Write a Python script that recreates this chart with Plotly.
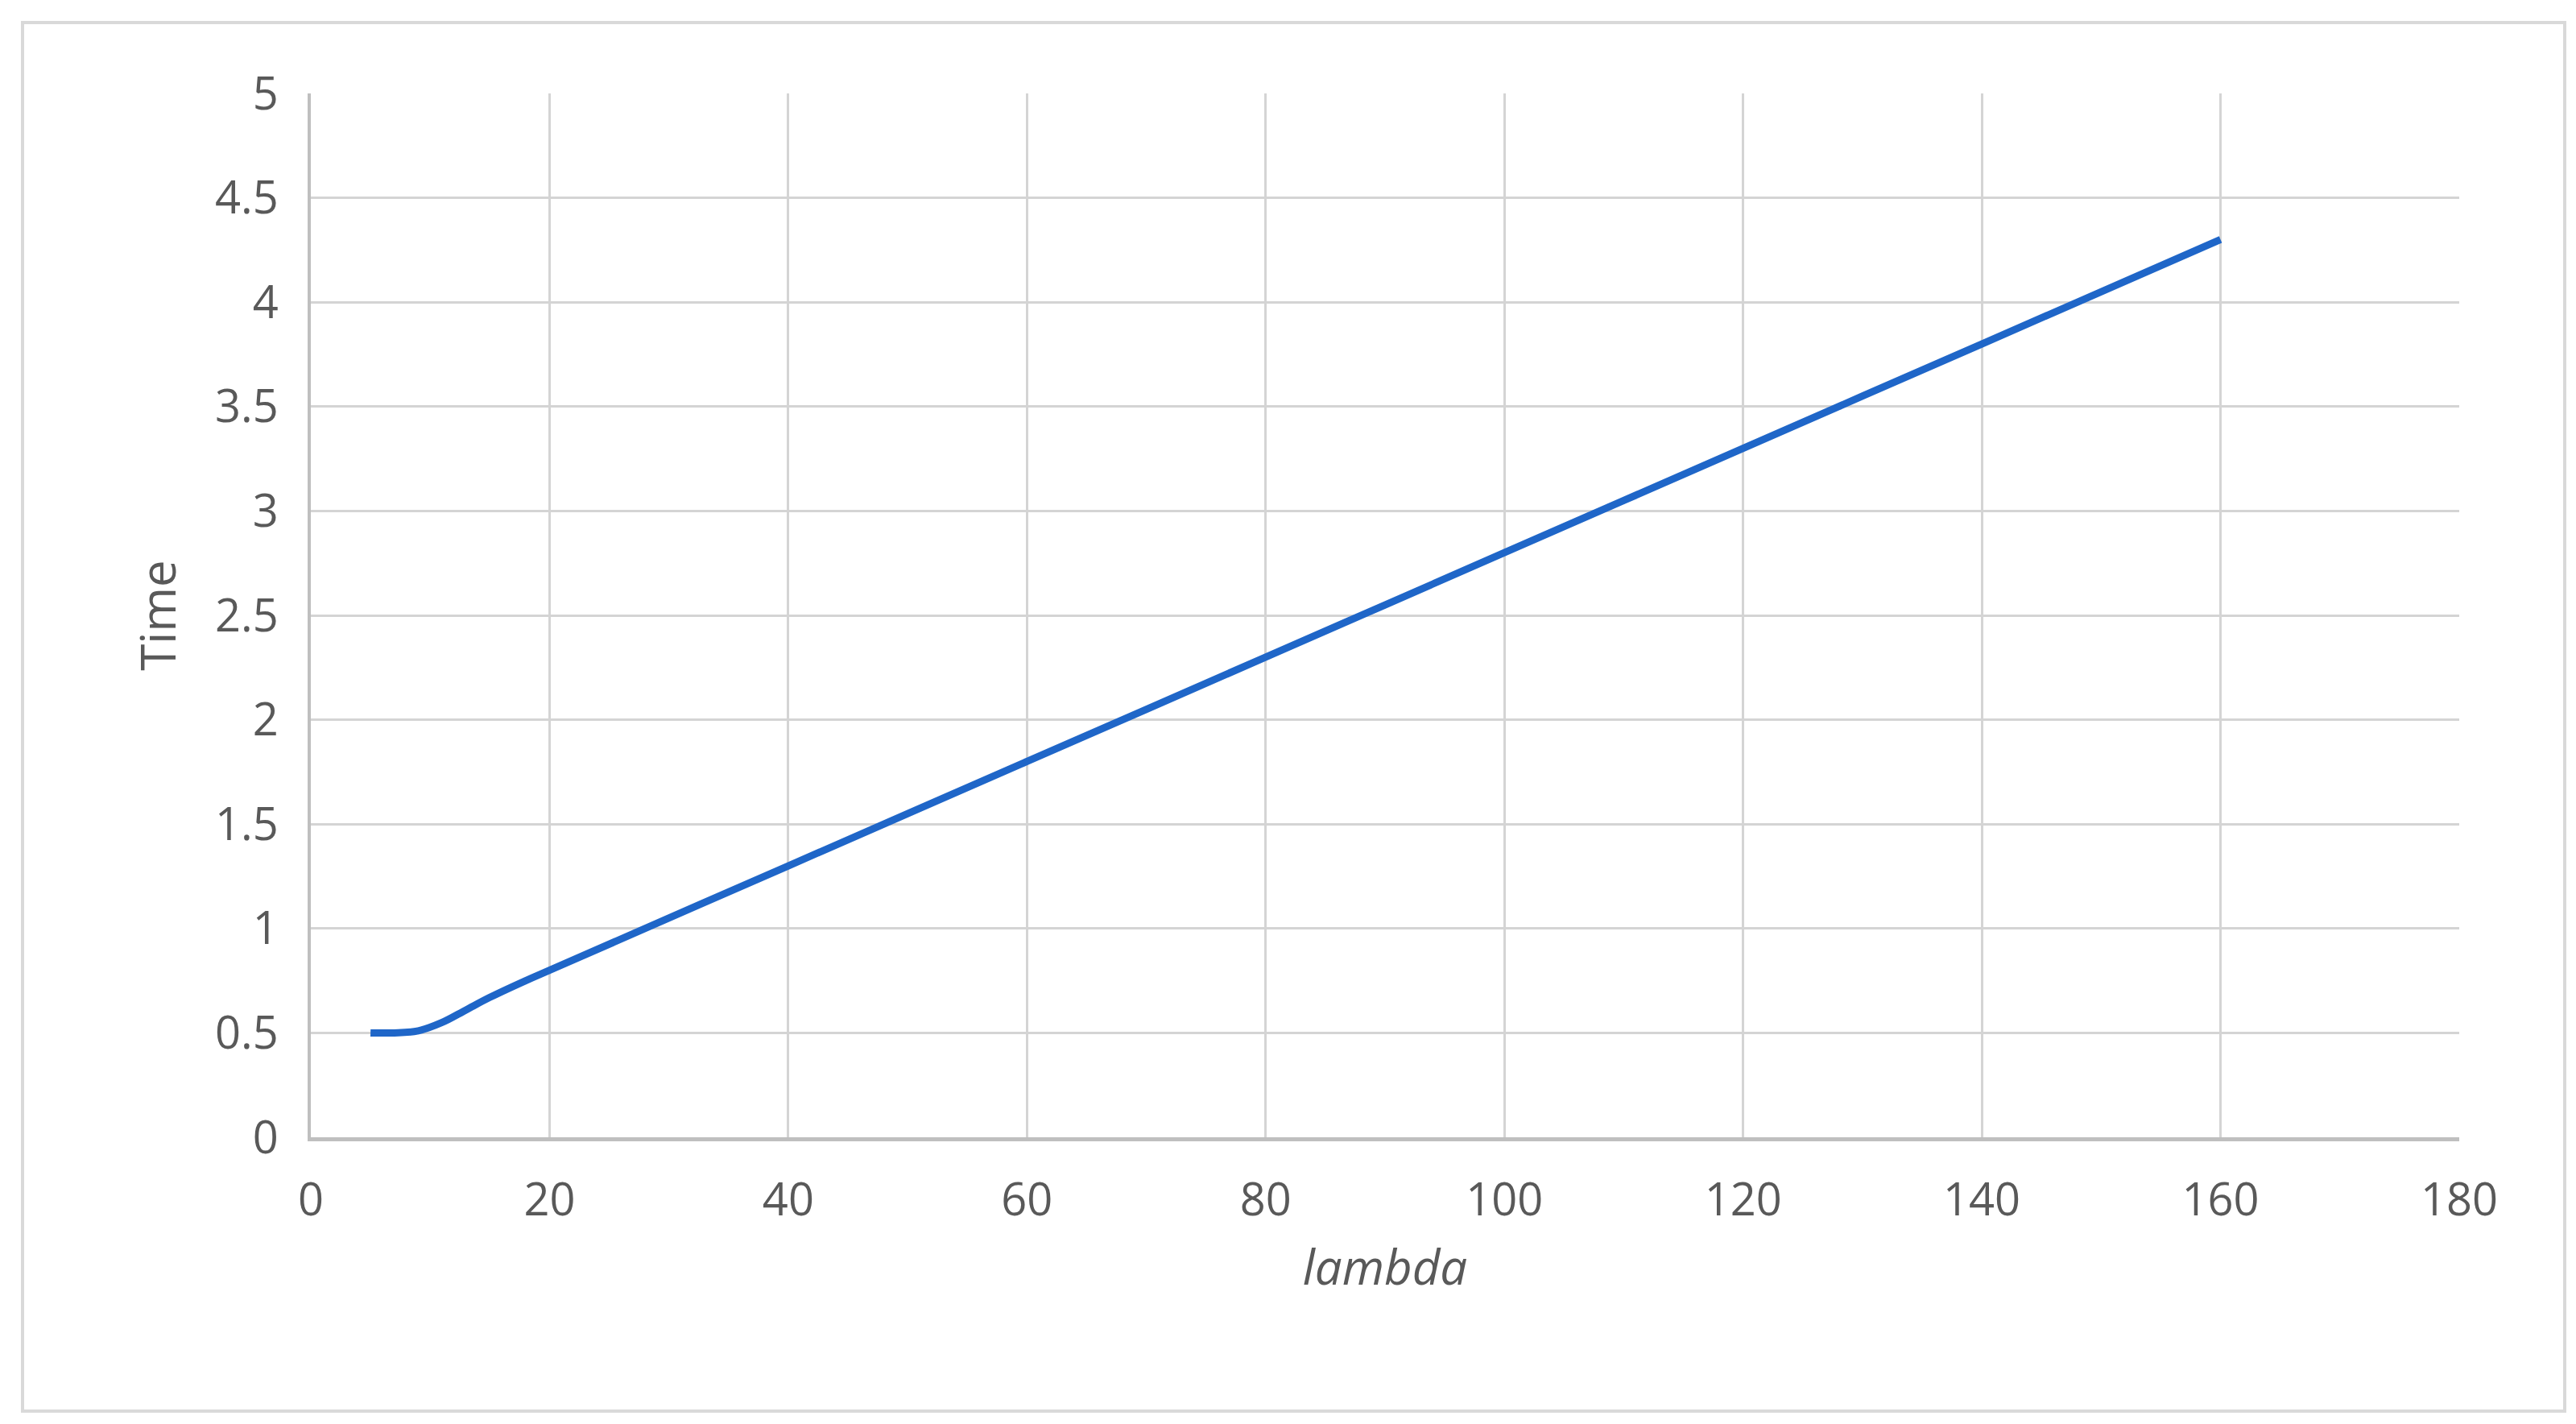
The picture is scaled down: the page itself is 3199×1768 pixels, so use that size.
import plotly.graph_objects as go

lam = [5, 7, 9, 11, 13, 15, 18, 20, 40, 60, 80, 100, 120, 140, 160]
time = [0.5, 0.5, 0.51, 0.55, 0.61, 0.67, 0.75, 0.8, 1.3, 1.8, 2.3, 2.8, 3.3, 3.8, 4.3]

W, H = 3199, 1768
L, R, T, B = 378, 153, 108, 364
pw, ph = W - L - R, H - T - B

fig = go.Figure()
fig.add_trace(go.Scatter(x=lam, y=time, mode="lines",
                         line=dict(color="#1f66c8", width=9, shape="spline")))

grid = "#d4d4d4"
font = dict(family="Open Sans, Liberation Sans", size=56, color="#595959")
fig.update_layout(
    width=W, height=H, margin=dict(l=L, r=R, t=T, b=B),
    paper_bgcolor="white", plot_bgcolor="white", showlegend=False,
    font=font,
    xaxis=dict(range=[0, 180], dtick=20, showgrid=True, gridcolor=grid, gridwidth=3,
               showline=True, linecolor="#bfbfbf", linewidth=5, zeroline=False,
               ticks="", ticklabelstandoff=25,
               title=dict(text="<i>lambda</i>", font=dict(size=60), standoff=30)),
    yaxis=dict(range=[0, 5], dtick=0.5, showgrid=True, gridcolor=grid, gridwidth=3,
               showline=True, linecolor="#bfbfbf", linewidth=4, zeroline=False,
               ticks="", ticklabelstandoff=25,
               title=dict(text="Time", font=dict(size=60), standoff=30)),
)
# outer chart border
fig.add_shape(type="rect", xref="paper", yref="paper",
              x0=(20 - L) / pw, x1=(W - 22 - L) / pw,
              y0=-(H - 24 - T - ph) / ph, y1=1 + (T - 20) / ph,
              line=dict(color="#d9d9d9", width=4))
fig.write_html("out.html")
